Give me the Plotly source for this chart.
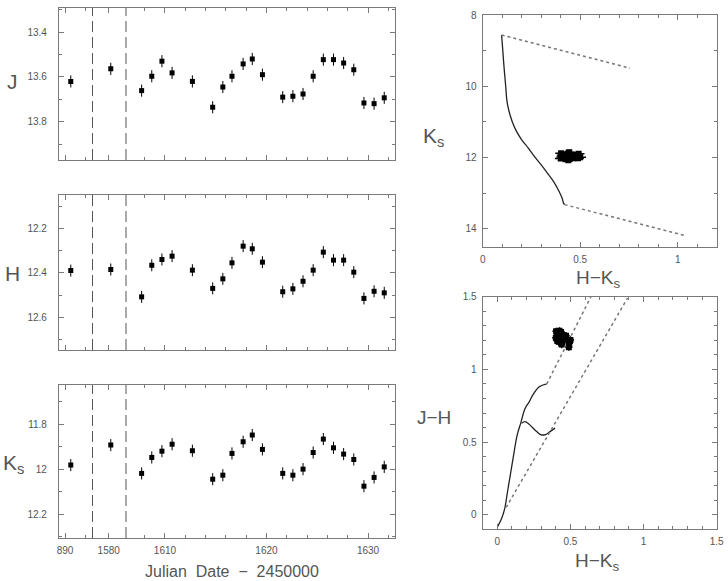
import plotly.graph_objects as go

# ---------------- data ----------------
jd = [890.56, 1580.2, 1607.7, 1608.7, 1609.7, 1610.7, 1612.7, 1614.7, 1615.7, 1616.6,
      1617.7, 1618.6, 1619.6, 1621.6, 1622.6, 1623.6, 1624.6, 1625.6, 1626.6, 1627.6,
      1628.6, 1629.6, 1630.6, 1631.6]
mag_j = [13.62, 13.564, 13.661, 13.597, 13.53, 13.582, 13.62, 13.735, 13.645, 13.597,
         13.542, 13.52, 13.59, 13.69, 13.686, 13.676, 13.597, 13.523, 13.523, 13.538,
         13.568, 13.716, 13.719, 13.693]
mag_h = [12.39, 12.385, 12.508, 12.366, 12.34, 12.325, 12.388, 12.47, 12.427, 12.355,
         12.28, 12.292, 12.352, 12.485, 12.472, 12.438, 12.388, 12.307, 12.343, 12.343,
         12.397, 12.515, 12.483, 12.49]
mag_k = [11.982, 11.893, 12.019, 11.948, 11.92, 11.889, 11.918, 12.045, 12.027, 11.93,
         11.878, 11.848, 11.912, 12.019, 12.027, 12.0, 11.926, 11.866, 11.905, 11.933,
         11.957, 12.076, 12.037, 11.99]
mag_err = 0.027

# broken time axis segments: (range, major ticks, labels, minor ticks)
seg_ranges = [(889.4, 892.7), (1578.4, 1581.7), (1606.16, 1632.66)]
seg_major = [[890], [1580], [1610, 1620, 1630]]
seg_labels = [["890"], ["1580"], ["1610", "1620", "1630"]]
seg_minor = [[892], [], [1608, 1612, 1614, 1616, 1618, 1622, 1624, 1626, 1628, 1632]]

# light-curve y axes
lc_names = ["J", "H", "K<sub>s</sub>"]
lc_ranges = [(13.97, 13.293), (12.747, 12.05), (12.307, 11.625)]
lc_ticks = [[13.4, 13.6, 13.8], [12.2, 12.4, 12.6], [11.8, 12.0, 12.2]]
lc_ticklabels = [["13.4", "13.6", "13.8"], ["12.2", "12.4", "12.6"], ["11.8", "12", "12.2"]]
lc_minor = [[13.3, 13.5, 13.7, 13.9], [12.1, 12.3, 12.5, 12.7], [11.7, 11.9, 12.1, 12.3]]

# CMD isochrone and reddening lines
iso_hk = [0.097, 0.103, 0.11, 0.118, 0.124, 0.135, 0.152, 0.172, 0.2, 0.232, 0.26, 0.295,
          0.33, 0.362, 0.39, 0.408, 0.414, 0.42]
iso_k = [8.56, 9.0, 9.5, 10.0, 10.4, 10.7, 11.0, 11.25, 11.5, 11.72, 11.93, 12.17,
         12.42, 12.66, 12.93, 13.15, 13.27, 13.32]
cmd_red_hk = [0.097, 0.756, None, 0.42, 1.046]
cmd_red_k = [8.56, 9.49, None, 13.32, 14.2]

# colour-colour loci
giant_hk = [0.0, 0.028, 0.05, 0.07, 0.085, 0.108, 0.136, 0.16, 0.189, 0.22, 0.246, 0.287, 0.338]
giant_jh = [-0.085, -0.03, 0.04, 0.16, 0.25, 0.39, 0.55, 0.63, 0.73, 0.78, 0.83, 0.88, 0.90]
dwarf_hk = [0.166, 0.189, 0.215, 0.24, 0.269, 0.3, 0.33, 0.36, 0.395]
dwarf_jh = [0.63, 0.64, 0.625, 0.6, 0.572, 0.55, 0.552, 0.572, 0.596]
cc_red_hk = [0.338, 0.64, None, 0.06, 0.89]
cc_red_jh = [0.90, 1.50, None, 0.05, 1.49]

# ---------------- layout helpers ----------------
W, H = 728, 581
def fx(p): return p / W
def fy(p): return 1 - p / H
def sfx(n): return "" if n == 1 else str(n)

FONT = "Liberation Sans, Arial, sans-serif"
AX = "#7a7a7a"
TXT = "#555555"

fig = go.Figure()
layout = dict(width=W, height=H, margin=dict(l=0, r=0, t=0, b=0, autoexpand=False),
              paper_bgcolor="white", plot_bgcolor="white", showlegend=False,
              font=dict(family=FONT, color=TXT, size=10))
shapes = []
annotations = []

def label(text, x, y, size=20, xanchor="center"):
    annotations.append(dict(text=text, xref="paper", yref="paper", x=fx(x), y=fy(y),
                            xanchor=xanchor, yanchor="middle", showarrow=False,
                            font=dict(size=size, color=TXT, family=FONT)))

panel_px = [(8, 160), (195, 350), (385, 538)]
seg_px = [(59, 92.5), (92.5, 126), (126, 395)]
name_pos = [(12, 82), (12, 273), (13, 464)]

for r in range(3):
    yl = 1 + 2 * r
    yr = 2 + 2 * r
    mags = [mag_j, mag_h, mag_k][r]
    top, bot = panel_px[r]
    for s in range(3):
        xn = 1 + 3 * r + s
        lo, hi = seg_ranges[s]
        xs = [t for t in jd if lo <= t <= hi]
        ys = [m for t, m in zip(jd, mags) if lo <= t <= hi]
        fig.add_trace(go.Scatter(
            x=xs, y=ys, mode="markers", xaxis="x" + sfx(xn), yaxis="y" + sfx(yl),
            marker=dict(color="black", size=5, symbol="square"),
            error_y=dict(type="constant", value=mag_err, thickness=1, width=0, color="black"),
            error_x=dict(type="constant", value=0.12, thickness=1, width=0, color="black"),
        ))
        layout["xaxis" + sfx(xn)] = dict(
            domain=[fx(seg_px[s][0]), fx(seg_px[s][1])], anchor="y" + sfx(yl),
            range=list(seg_ranges[s]), tickmode="array", tickvals=seg_major[s],
            ticktext=seg_labels[s], showticklabels=(r == 2), ticks="inside", ticklen=5,
            tickcolor=AX, showline=True, linecolor=AX, linewidth=1.2, mirror="ticks",
            showgrid=False, zeroline=False, ticklabelstandoff=3,
            minor=dict(tickmode="array", tickvals=seg_minor[s], ticks="inside", ticklen=3,
                       tickcolor=AX, showgrid=False),
            tickfont=dict(size=10, color=TXT, family=FONT))
    common_y = dict(range=list(lc_ranges[r]), tickmode="array", tickvals=lc_ticks[r],
                    ticktext=lc_ticklabels[r], ticks="inside", ticklen=5, tickcolor=AX,
                    showline=True, linecolor=AX, linewidth=1.2, showgrid=False, zeroline=False,
                    minor=dict(tickmode="array", tickvals=lc_minor[r], ticks="inside",
                               ticklen=3, tickcolor=AX, showgrid=False),
                    tickfont=dict(size=10, color=TXT, family=FONT))
    layout["yaxis" + sfx(yl)] = dict(domain=[fy(bot), fy(top)], anchor="x" + sfx(1 + 3 * r),
                                     side="left", ticklabelstandoff=9, **common_y)
    layout["yaxis" + sfx(yr)] = dict(overlaying="y" + sfx(yl), anchor="x" + sfx(3 + 3 * r),
                                     side="right", showticklabels=False, **common_y)
    # dashed break lines
    for s in range(2):
        shapes.append(dict(type="line", xref="x" + sfx(1 + 3 * r + s) + " domain",
                           yref="y" + sfx(yl) + " domain",
                           x0=1, x1=1, y0=0, y1=1,
                           line=dict(color="#555555", width=1, dash="11px,5px")))
    label(lc_names[r], name_pos[r][0], name_pos[r][1], size=21)

# invisible traces for overlay axes so they render
for r in range(3):
    fig.add_trace(go.Scatter(x=[None], y=[None], xaxis="x" + sfx(3 + 3 * r),
                             yaxis="y" + sfx(2 + 2 * r), mode="markers", hoverinfo="skip"))

label("Julian  Date  −  2450000", 232, 571, size=16)

# ---------------- CMD ----------------
hk = [h - k for h, k in zip(mag_h, mag_k)]
jh = [j - h for j, h in zip(mag_j, mag_h)]

fig.add_trace(go.Scatter(x=iso_hk, y=iso_k, mode="lines", xaxis="x10", yaxis="y7",
                         line=dict(color="#222222", width=1.3, shape="spline")))
fig.add_trace(go.Scatter(x=cmd_red_hk, y=cmd_red_k, mode="lines", xaxis="x10", yaxis="y7",
                         line=dict(color="#777777", width=1.5, dash="dot")))
fig.add_trace(go.Scatter(x=hk, y=mag_k, mode="markers", xaxis="x10", yaxis="y7",
                         marker=dict(color="black", size=6, symbol="square"),
                         error_x=dict(type="constant", value=0.03, thickness=1.5, width=0, color="black"),
                         error_y=dict(type="constant", value=mag_err, thickness=1.5, width=0, color="black")))

box = dict(ticks="inside", ticklen=5, tickcolor=AX, showline=True, linecolor=AX, linewidth=1.2,
           mirror="allticks", showgrid=False, zeroline=False, ticklabelstandoff=3,
           tickfont=dict(size=10, color=TXT, family=FONT))

layout["xaxis10"] = dict(domain=[fx(482.7), fx(716.7)], anchor="y7", range=[0, 1.2],
                         tickmode="array", tickvals=[0, 0.5, 1], ticktext=["0", "0.5", "1"],
                         minor=dict(dtick=0.1, ticks="inside", ticklen=3, tickcolor=AX, showgrid=False),
                         **box)
layout["yaxis7"] = dict(domain=[fy(246.7), fy(15)], anchor="x10", range=[14.5, 8],
                        tickmode="array", tickvals=[8, 10, 12, 14], ticktext=["8", "10", "12", "14"],
                        minor=dict(dtick=1, ticks="inside", ticklen=3, tickcolor=AX, showgrid=False),
                        **box)
label("K<sub>s</sub>", 433, 137, size=21)
label("H−K<sub>s</sub>", 598, 279, size=19)

# ---------------- colour-colour ----------------
fig.add_trace(go.Scatter(x=giant_hk, y=giant_jh, mode="lines", xaxis="x11", yaxis="y8",
                         line=dict(color="#222222", width=1.3, shape="spline")))
fig.add_trace(go.Scatter(x=dwarf_hk, y=dwarf_jh, mode="lines", xaxis="x11", yaxis="y8",
                         line=dict(color="#222222", width=1.3, shape="spline")))
fig.add_trace(go.Scatter(x=cc_red_hk, y=cc_red_jh, mode="lines", xaxis="x11", yaxis="y8",
                         line=dict(color="#777777", width=1.5, dash="dot")))
fig.add_trace(go.Scatter(x=hk, y=jh, mode="markers", xaxis="x11", yaxis="y8",
                         marker=dict(color="black", size=6, symbol="square"),
                         error_x=dict(type="constant", value=0.025, thickness=1.5, width=0, color="black"),
                         error_y=dict(type="constant", value=0.025, thickness=1.5, width=0, color="black")))

layout["xaxis11"] = dict(domain=[fx(482.7), fx(716.7)], anchor="y8", range=[-0.1, 1.5],
                         tickmode="array", tickvals=[0, 0.5, 1, 1.5], ticktext=["0", "0.5", "1", "1.5"],
                         minor=dict(dtick=0.1, tick0=0, ticks="inside", ticklen=3, tickcolor=AX, showgrid=False),
                         **box)
layout["yaxis8"] = dict(domain=[fy(529.3), fy(296.7)], anchor="x11", range=[-0.1, 1.5],
                        tickmode="array", tickvals=[0, 0.5, 1, 1.5], ticktext=["0", "0.5", "1", "1.5"],
                        minor=dict(dtick=0.1, tick0=0, ticks="inside", ticklen=3, tickcolor=AX, showgrid=False),
                        **box)
label("J−H", 434, 417, size=19)
label("H−K<sub>s</sub>", 597, 562, size=19)

layout["shapes"] = shapes
layout["annotations"] = annotations
fig.update_layout(**layout)
fig.write_html("out.html", config={"displayModeBar": False},
               post_script="document.body.style.margin='0';document.body.style.overflow='hidden';")
